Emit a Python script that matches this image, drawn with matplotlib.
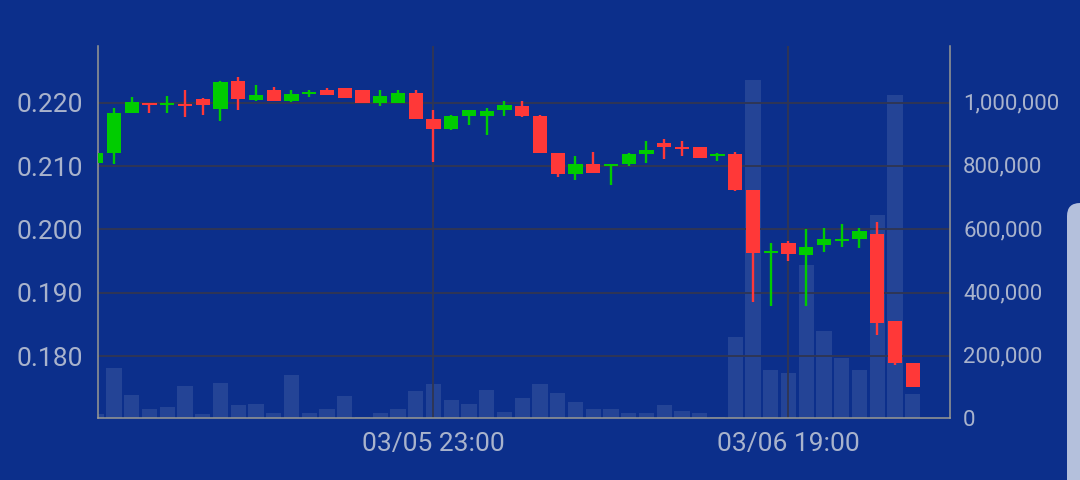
import matplotlib
matplotlib.use("Agg")
import matplotlib.pyplot as plt
import numpy as np
import pandas as pd
from matplotlib.patches import FancyBboxPatch
from matplotlib.ticker import FuncFormatter

# hourly candles, 03/05 04:00 .. 03/06 22:00
times = pd.date_range("2025-03-05 04:00", periods=47, freq="h")

opens = [0.2105, 0.2121, 0.2184, 0.2200, 0.2196, 0.2198, 0.2206, 0.2190, 0.2234, 0.2204,
         0.2220, 0.2203, 0.2214, 0.2220, 0.2223, 0.2220, 0.2200, 0.2200, 0.2215, 0.2174,
         0.2159, 0.2179, 0.2179, 0.2189, 0.2195, 0.2179, 0.2121, 0.2088, 0.2103, 0.2100,
         0.2103, 0.2119, 0.2137, 0.2130, 0.2130, 0.2116, 0.2119, 0.2063, 0.1963, 0.1978,
         0.1960, 0.1976, 0.1982, 0.1985, 0.1993, 0.1856, 0.1790]
highs = [0.2123, 0.2192, 0.2209, 0.2200, 0.2210, 0.2220, 0.2207, 0.2234, 0.2240, 0.2228,
         0.2225, 0.2220, 0.2220, 0.2223, 0.2223, 0.2220, 0.2220, 0.2220, 0.2220, 0.2189,
         0.2181, 0.2189, 0.2192, 0.2203, 0.2203, 0.2181, 0.2121, 0.2116, 0.2122, 0.2103,
         0.2121, 0.2140, 0.2143, 0.2140, 0.2130, 0.2121, 0.2122, 0.2063, 0.1978, 0.1982,
         0.2001, 0.2003, 0.2009, 0.2003, 0.2012, 0.1856, 0.1790]
lows = [0.2103, 0.2103, 0.2184, 0.2184, 0.2184, 0.2177, 0.2181, 0.2171, 0.2189, 0.2203,
        0.2203, 0.2201, 0.2209, 0.2212, 0.2207, 0.2200, 0.2195, 0.2200, 0.2174, 0.2107,
        0.2157, 0.2165, 0.2149, 0.2179, 0.2177, 0.2121, 0.2083, 0.2078, 0.2089, 0.2070,
        0.2100, 0.2105, 0.2111, 0.2116, 0.2113, 0.2108, 0.2061, 0.1885, 0.1880, 0.1951,
        0.1880, 0.1965, 0.1973, 0.1971, 0.1834, 0.1786, 0.1752]
closes = [0.2121, 0.2184, 0.2201, 0.2196, 0.2200, 0.2195, 0.2196, 0.2233, 0.2206, 0.2212,
          0.2203, 0.2214, 0.2215, 0.2212, 0.2207, 0.2200, 0.2211, 0.2215, 0.2174, 0.2159,
          0.2179, 0.2189, 0.2187, 0.2196, 0.2179, 0.2121, 0.2088, 0.2103, 0.2089, 0.2103,
          0.2119, 0.2126, 0.2130, 0.2127, 0.2113, 0.2119, 0.2063, 0.1963, 0.1965, 0.1962,
          0.1973, 0.1985, 0.1985, 0.1998, 0.1853, 0.1790, 0.1752]
volumes = [12600, 158000, 72700, 28400, 34800, 101000, 12600, 110600, 41000, 44200,
           15800, 136000, 15800, 28400, 69500, 3200, 15800, 28400, 85300, 107400,
           56900, 44200, 88500, 19000, 63200, 107400, 79000, 51600, 29500, 29500,
           16900, 16900, 42000, 23200, 16900, 4200, 256000, 1068000, 151700, 142200,
           483500, 275000, 189600, 151700, 641500, 1020700, 75800]

tick_labels = ["03/05 23:00", "03/06 19:00"]
price_ticks = [0.180, 0.190, 0.200, 0.210, 0.220]
volume_ticks = [0, 200000, 400000, 600000, 800000, 1000000]

bg = "#0c2f8b"
up = "#00cc00"
down = "#ff3838"
grid_c = "#2f3656"
label_c = "#a9b3cc"
spine_c = "#9a9a92"

plt.rcParams["font.family"] = ["Roboto", "DejaVu Sans"]

fig = plt.figure(figsize=(10.8, 4.8), dpi=100, facecolor=bg)
ax = fig.add_axes([98 / 1080, 1 - 418 / 480, 852 / 1080, 372 / 480])
ax2 = ax.twinx()
ax.set_zorder(ax2.get_zorder() + 1)
ax.patch.set_visible(False)
ax2.set_facecolor(bg)

x = np.arange(len(opens))
o = np.array(opens)
c = np.array(closes)
colors = [up if cc >= oo else down for oo, cc in zip(o, c)]

# volume bars behind
ax2.bar(x, volumes, width=0.85, color="white", alpha=0.1, linewidth=0)
ax2.set_ylim(0, 1175400)
ax2.set_yticks(volume_ticks)
ax2.yaxis.set_major_formatter(FuncFormatter(lambda v, p: f"{int(v):,}"))
ax2.tick_params(axis="y", length=0, pad=9.5, labelsize=16, labelcolor=label_c)

# grid
for p in price_ticks:
    ax.axhline(p, color=grid_c, lw=1.4, zorder=1)
tick_pos = [list(times.strftime("%m/%d %H:%M")).index(t) for t in tick_labels]
for t in tick_pos:
    ax.axvline(t, color=grid_c, lw=1.4, zorder=1)

# candles
ax.vlines(x, lows, highs, colors=colors, lw=1.7, zorder=2)
body = np.maximum(np.abs(c - o), 0.0003)
ax.bar(x, body, bottom=np.minimum(o, c), width=0.8, color=colors, linewidth=0, zorder=3)

ax.set_xlim(0.1, 48.1)
ax.set_ylim(0.17027, 0.22894)
ax.set_yticks(price_ticks)
ax.yaxis.set_major_formatter(FuncFormatter(lambda v, p: f"{v:.3f}"))
ax.set_xticks(tick_pos)
ax.set_xticklabels(tick_labels)
ax.tick_params(axis="y", length=0, pad=11, labelsize=19, labelcolor=label_c)
ax.tick_params(axis="x", length=0, pad=10, labelsize=19, labelcolor=label_c)

for a in (ax, ax2):
    for s in a.spines.values():
        s.set_visible(False)
for s in ("left", "right", "bottom"):
    ax.spines[s].set_visible(True)
    ax.spines[s].set_color(spine_c)
    ax.spines[s].set_linewidth(1.1)

# rounded panel peeking in at the right edge
panel = FancyBboxPatch((10.67, -0.5), 0.6, 3.27, boxstyle="round,pad=0,rounding_size=0.13",
                       transform=fig.dpi_scale_trans, facecolor="#b4c0dc", edgecolor="none")
fig.add_artist(panel)

fig.savefig("out.png", dpi=100, facecolor=bg)
